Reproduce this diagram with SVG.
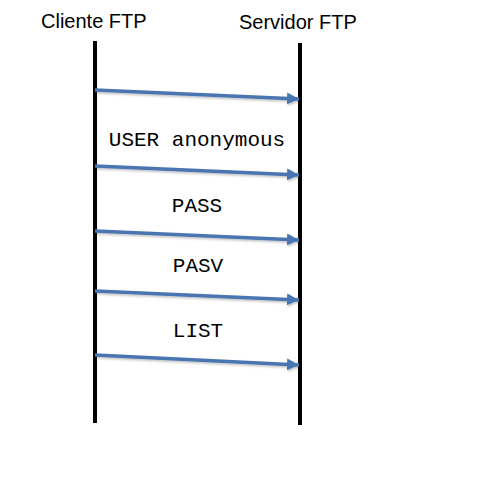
<svg xmlns="http://www.w3.org/2000/svg" width="496" height="496" viewBox="0 0 496 496">
<style>
.title{font-family:"Liberation Sans",Arial,sans-serif;font-size:20px;fill:#000}
.msg{font-family:"Liberation Mono","Courier New",monospace;font-size:21px;fill:#000;text-anchor:middle}
.life{stroke:#000;stroke-width:4;fill:none}
.arrow{stroke:#4a76b0;stroke-width:3.5;fill:none;marker-end:url(#ah)}
</style>
<defs>
<marker id="ah" markerUnits="userSpaceOnUse" markerWidth="12" markerHeight="12" viewBox="0 0 12 12" refX="12" refY="6" orient="auto">
<path d="M0,0 L12,6 L0,12 Z" fill="#4a76b0"/>
</marker>
<filter id="sh" x="-10%" y="-50%" width="120%" height="200%">
<feDropShadow dx="1" dy="1.5" stdDeviation="1" flood-color="#000" flood-opacity="0.25"/>
</filter>
</defs>
<rect width="496" height="496" fill="#fff"/>
<g id="cliente">
<text class="title" x="41" y="28">Cliente FTP</text>
<line class="life" x1="95" y1="41" x2="95" y2="423"/>
</g>
<g id="servidor">
<text class="title" x="239" y="29">Servidor FTP</text>
<line class="life" x1="300" y1="43" x2="300" y2="425"/>
</g>
<g id="connectors" filter="url(#sh)">
<line class="arrow" x1="95" y1="90" x2="299" y2="99"/>
<line class="arrow" x1="95" y1="166" x2="299" y2="175"/>
<line class="arrow" x1="95" y1="231" x2="299" y2="240"/>
<line class="arrow" x1="95" y1="291" x2="299" y2="300"/>
<line class="arrow" x1="95" y1="355" x2="299" y2="365"/>
</g>
<g id="labels">
<text class="msg" x="197" y="146">USER anonymous</text>
<text class="msg" x="197" y="212">PASS</text>
<text class="msg" x="198" y="272">PASV</text>
<text class="msg" x="198" y="337">LIST</text>
</g>
</svg>
